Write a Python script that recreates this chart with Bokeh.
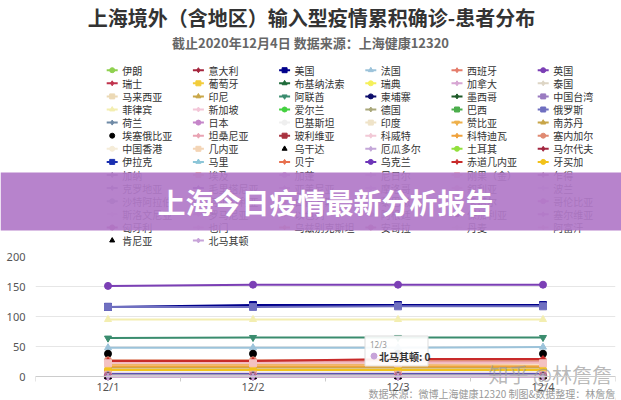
from bokeh.plotting import figure
from bokeh.models import Range1d, FixedTicker, ColumnDataSource
from bokeh.core.properties import value
from bokeh.embed import file_html
from bokeh.resources import INLINE

# ---------------- data ----------------
title = "上海境外（含地区）输入型疫情累积确诊-患者分布"
subtitle = "截止2020年12月4日 数据来源：上海健康12320"
banner = "上海今日疫情最新分析报告"
watermark = "知乎 @林詹詹"
source_note = "数据来源：微博上海健康12320 制图&数据整理：林詹詹/"

dates = ["12/1", "12/2", "12/3", "12/4"]
y_ticks = [0, 50, 100, 150, 200]

countries = [
    "伊朗", "意大利", "美国", "法国", "西班牙", "英国",
    "瑞士", "葡萄牙", "布基纳法索", "瑞典", "加拿大", "泰国",
    "马来西亚", "印尼", "阿联酋", "柬埔寨", "墨西哥", "中国台湾",
    "菲律宾", "新加坡", "爱尔兰", "德国", "巴西", "俄罗斯",
    "荷兰", "日本", "巴基斯坦", "印度", "赞比亚", "南苏丹",
    "埃塞俄比亚", "坦桑尼亚", "玻利维亚", "科威特", "科特迪瓦", "塞内加尔",
    "中国香港", "几内亚", "乌干达", "厄瓜多尔", "土耳其", "马尔代夫",
    "伊拉克", "马里", "贝宁", "乌克兰", "赤道几内亚", "牙买加",
    "加纳", "埃及", "加蓬", "尼日尔", "刚果（金）", "乍得",
    "克罗地亚", "毛里塔尼亚", "亚美尼亚", "摩洛哥", "叙利亚", "波兰",
    "沙特阿拉伯", "阿尔及利亚", "白俄罗斯", "黎巴嫩", "卡塔尔", "哥伦比亚",
    "斯洛文尼亚", "罗马尼亚", "以色列", "阿根廷", "保加利亚", "塞尔维亚",
    "匈牙利", "也门", "乌兹别克斯坦", "安哥拉", "丹麦", "阿富汗",
    "肯尼亚", "北马其顿",
]

v_12_1 = [3, 5, 116, 48, 13, 151,
          6, 12, 2, 7, 9, 4,
          4, 6, 64, 10, 9, 2,
          95, 8, 2, 7, 5, 116,
          5, 7, 8, 14, 21, 15,
          38, 24, 4, 3, 17, 27,
          1, 3, 0, 1, 2, 1,
          4, 2, 1, 3, 26, 11,
          2, 3, 1, 1, 22, 1,
          1, 2, 1, 1, 1, 2,
          2, 1, 1, 1, 1, 1,
          0, 1, 1, 1, 0, 1,
          1, 0, 1, 1, 1, 0,
          0, 0]
v_12_2 = [3, 5, 119, 48, 13, 153,
          6, 12, 2, 7, 9, 4,
          4, 6, 65, 10, 9, 2,
          95, 8, 2, 7, 5, 116,
          5, 7, 8, 14, 21, 15,
          38, 24, 4, 3, 17, 27,
          1, 3, 0, 1, 2, 1,
          4, 2, 1, 3, 26, 11,
          2, 3, 1, 1, 22, 1,
          1, 2, 1, 1, 1, 2,
          2, 1, 1, 1, 1, 1,
          0, 1, 1, 1, 0, 1,
          1, 0, 1, 1, 1, 0,
          0, 0]
v_12_3 = [3, 5, 119, 48, 13, 153,
          6, 12, 2, 7, 9, 4,
          4, 6, 65, 10, 9, 2,
          95, 8, 2, 7, 5, 117,
          5, 7, 8, 14, 21, 15,
          38, 24, 4, 3, 17, 27,
          1, 3, 0, 1, 2, 1,
          4, 2, 1, 3, 29, 11,
          2, 3, 1, 1, 22, 1,
          1, 2, 1, 1, 1, 2,
          2, 1, 1, 1, 1, 1,
          0, 1, 1, 1, 0, 1,
          1, 0, 1, 1, 1, 0,
          0, 0]
v_12_4 = [3, 5, 119, 49, 13, 153,
          6, 12, 2, 7, 9, 4,
          4, 6, 65, 10, 9, 2,
          95, 8, 2, 7, 5, 117,
          5, 7, 8, 14, 22, 15,
          38, 24, 4, 3, 17, 27,
          1, 3, 0, 1, 2, 1,
          4, 2, 1, 3, 29, 11,
          2, 3, 1, 1, 22, 1,
          1, 2, 1, 1, 1, 2,
          2, 1, 1, 1, 1, 1,
          0, 1, 1, 1, 0, 1,
          1, 0, 1, 1, 1, 0,
          0, 0]

tooltip_date = "12/3"
tooltip_country = "北马其顿"

# ---------------- styles ----------------
colors = [
    "#8fd14f", "#a5243d", "#00008b", "#9cc3da", "#e57c6b", "#7b3fb5",
    "#c0334d", "#f2cc3a", "#1f6b3a", "#f5f05a", "#d7a6d3", "#ddd5c5",
    "#ecd9b5", "#c9a748", "#3a8c6e", "#0d0d6b", "#1e5a28", "#9a7bc0",
    "#f3eeb0", "#f3c6d8", "#43d13f", "#a9a77a", "#4cae4c", "#6f6fc0",
    "#6f8aa6", "#c585c9", "#efefef", "#efe3c8", "#eeb04a", "#c8a548",
    "#000000", "#e9a3b3", "#a8323e", "#f2c9d6", "#f0a23c", "#e08a72",
    "#f5ecd8", "#f3d4b5", "#000000", "#c3a6d8", "#92e03c", "#a2253f",
    "#1a2fb0", "#8cc6d8", "#e8704f", "#6d35b8", "#c82a2a", "#f2c21a",
    "#7a6f8a", "#f2b5a6", "#d4a0d4", "#e2c7e5", "#f4c2c2", "#a67896",
    "#8a7aa8", "#6e3fa6", "#cc9bd2", "#dcc3e6", "#f0c6cf", "#e0cbe8",
    "#8796a8", "#c9b3d9", "#d89cc0", "#b9a0c9", "#d0b8c8", "#cc7fc8",
    "#e8dce8", "#e0b8cc", "#d4a0c4", "#cfa3c8", "#3b1e5a", "#c68ac8",
    "#a8367e", "#efc8d8", "#e8907a", "#c06a90", "#f0e8e0", "#f0c8d6",
    "#000000", "#c7a3d9",
]
markers = [
    "circle", "diamond", "square", "triangle", "diamond", "circle",
    "diamond", "square", "triangle", "circle", "diamond", "diamond",
    "square", "triangle", "inverted_triangle", "circle", "diamond", "square",
    "triangle", "diamond", "circle", "diamond", "square", "square",
    "diamond", "circle", "circle", "square", "inverted_triangle", "triangle",
    "circle", "diamond", "square", "diamond", "diamond", "circle",
    "circle", "square", "triangle", "diamond", "circle", "diamond",
    "square", "triangle", "diamond", "circle", "diamond", "circle",
    "diamond", "square", "circle", "diamond", "square", "diamond",
    "diamond", "diamond", "diamond", "diamond", "circle", "diamond",
    "circle", "diamond", "circle", "diamond", "circle", "circle",
    "diamond", "diamond", "diamond", "circle", "circle", "diamond",
    "circle", "diamond", "diamond", "circle", "diamond", "diamond",
    "triangle", "diamond",
]
marker_only = {"埃塞俄比亚", "乌干达", "肯尼亚"}

CJK = "Noto Sans CJK SC"
W = 621

# ---------------- header (title + legend + banner) ----------------
hdr = figure(width=W, height=248, x_range=Range1d(0, W), y_range=Range1d(248, 0),
             x_axis_type=None, y_axis_type=None, output_backend="svg",
             toolbar_location=None, min_border=0, outline_line_color=None)

hdr.text(x=[311], y=[17], text=[title], text_font=value(CJK), text_font_size="20px",
         text_font_style="bold", text_color="#333333", text_align="center",
         text_baseline="middle")
hdr.text(x=[310], y=[42], text=[subtitle], text_font=value(CJK), text_font_size="13px",
         text_font_style="bold", text_color="#666666", text_align="center",
         text_baseline="middle")

n = len(countries)
cx = [111.7 + 86.2 * (i % 6) for i in range(n)]
cy = [69.7 + 13.1 * (i // 6) for i in range(n)]
line_idx = [i for i in range(n) if countries[i] not in marker_only]
hdr.segment(x0=[cx[i] - 5.5 for i in line_idx], x1=[cx[i] + 5.5 for i in line_idx],
            y0=[cy[i] for i in line_idx], y1=[cy[i] for i in line_idx],
            line_color=[colors[i] for i in line_idx], line_width=2)
leg_src = ColumnDataSource(dict(x=cx, y=cy, m=markers, c=colors))
hdr.scatter(x="x", y="y", marker="m", fill_color="c", line_color="c", size=5,
            source=leg_src)
hdr.text(x=[c + 10 for c in cx], y=cy, text=countries, text_font=value(CJK),
         text_font_size="10px", text_color="#333333", text_baseline="middle",
         text_align="left")

hdr.quad(left=[0], right=[W], top=[172], bottom=[230], fill_color="#b27ac8",
         fill_alpha=0.93, line_color=None)
hdr.text(x=[325], y=[201], text=[banner], text_font=value(CJK), text_font_size="28px",
         text_font_style="bold", text_color="white", text_align="center",
         text_baseline="middle")

# ---------------- chart ----------------
ch = figure(width=W, height=152, x_range=Range1d(0, len(dates)), y_range=Range1d(-40, 200),
            output_backend="svg", toolbar_location=None,
            min_border_left=35, min_border_right=6, min_border_top=8,
            min_border_bottom=0, outline_line_color=None)

xs = [i + 0.5 for i in range(len(dates))]
ch.xaxis.fixed_location = 0
ch.xaxis.ticker = FixedTicker(ticks=xs, minor_ticks=list(range(len(dates) + 1)))
ch.xaxis.major_label_overrides = {x: d for x, d in zip(xs, dates)}
ch.xaxis.axis_line_color = "#cccccc"
ch.xaxis.major_tick_line_color = None
ch.xaxis.major_tick_out = 0
ch.xaxis.major_tick_in = 0
ch.xaxis.minor_tick_line_color = "#cccccc"
ch.xaxis.minor_tick_out = 5
ch.xaxis.minor_tick_in = 0
ch.xaxis.major_label_standoff = -3
ch.xaxis.major_label_text_font = "Noto Sans"
ch.xaxis.major_label_text_font_size = "11px"
ch.xaxis.major_label_text_color = "#555555"

ch.yaxis.ticker = FixedTicker(ticks=y_ticks)
ch.yaxis.axis_line_color = None
ch.yaxis.major_tick_line_color = None
ch.yaxis.major_tick_out = 0
ch.yaxis.minor_tick_line_color = None
ch.yaxis.major_label_standoff = 10
ch.yaxis.major_label_text_font = "Noto Sans"
ch.yaxis.major_label_text_font_size = "11px"
ch.yaxis.major_label_text_color = "#555555"

ch.xgrid.visible = False
ch.ygrid.grid_line_color = "#e6e6e6"
ch.ygrid.ticker = FixedTicker(ticks=y_ticks)

series = [v_12_1, v_12_2, v_12_3, v_12_4]
for i, name in enumerate(countries):
    ys = [s[i] for s in series]
    if name not in marker_only:
        ch.line(xs, ys, line_color=colors[i], line_width=2)
    ch.scatter(xs, ys, marker=markers[i], size=7, fill_color=colors[i],
               line_color=colors[i])

# tooltip at 12/3
ti = dates.index(tooltip_date)
ci = countries.index(tooltip_country)
tx = xs[ti]
ch.quad(left=[tx - 33 / 145], right=[tx + 30 / 145], top=[67.5], bottom=[17.5],
        fill_color="white", fill_alpha=0.92, line_color="#dddddd", line_width=1)
ch.text(x=[tx - 28 / 145], y=[54], text=[tooltip_date], text_font=value("Noto Sans"),
        text_font_size="8px", text_color="#999999", text_baseline="middle")
ch.scatter(x=[tx - 24 / 145], y=[34], marker="circle", size=6, fill_color=colors[ci],
           line_color=colors[ci])
ch.text(x=[tx - 19 / 145], y=[34],
        text=[f"{tooltip_country}: {series[ti][ci]}"], text_font=value(CJK),
        text_font_size="10px", text_font_style="bold", text_color="#333333",
        text_baseline="middle")

ch.text(x=[(488 - 35) / 145], y=[4], text=[watermark], text_font=value(CJK),
        text_font_size="20px", text_color="#9a9a9a", text_alpha=0.7,
        text_baseline="middle")
ch.text(x=[(368 - 35) / 145], y=[-29], text=[source_note], text_font=value(CJK),
        text_font_size="10px", text_color="#999999", text_baseline="middle")

open("out.html", "w").write(file_html([hdr, ch], INLINE))
